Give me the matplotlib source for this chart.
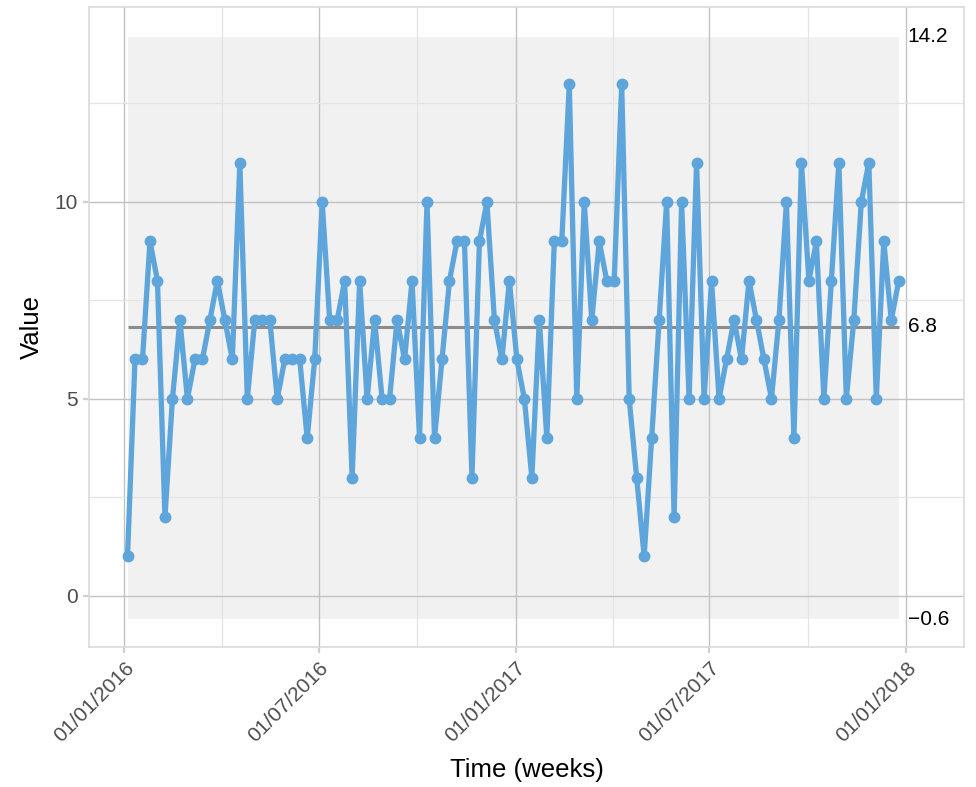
import numpy as np
import pandas as pd
import matplotlib
matplotlib.use('Agg')
import matplotlib.pyplot as plt
import matplotlib.dates as mdates
from matplotlib.ticker import FixedLocator

# Weekly values (104 weeks, starting Monday 4 Jan 2016)
START_DATE = '2016-01-04'
VALUES = [1, 6, 6, 9, 8, 2, 5, 7, 5, 6,
          6, 7, 8, 7, 6, 11, 5, 7, 7, 7,
          5, 6, 6, 6, 4, 6, 10, 7, 7, 8,
          3, 8, 5, 7, 5, 5, 7, 6, 8, 4,
          10, 4, 6, 8, 9, 9, 3, 9, 10, 7,
          6, 8, 6, 5, 3, 7, 4, 9, 9, 13,
          5, 10, 7, 9, 8, 8, 13, 5, 3, 1,
          4, 7, 10, 2, 10, 5, 11, 5, 8, 5,
          6, 7, 6, 8, 7, 6, 5, 7, 10, 4,
          11, 8, 9, 5, 8, 11, 5, 7, 10, 11,
          5, 9, 7, 8]
UPPER_LIMIT = 14.2
LOWER_LIMIT = -0.6
X_BREAKS = ['2016-01-01', '2016-07-01', '2017-01-01', '2017-07-01', '2018-01-01']
Y_BREAKS = [0, 5, 10]
Y_MINOR = [2.5, 7.5, 12.5]

LINE_COLOUR = '#5DA5DA'
BAND_COLOUR = '#f1f1f1'
MEAN_COLOUR = '#8c8c8c'
TICK_GREY = '#4d4d4d'

plt.rcParams['font.family'] = ['Liberation Sans', 'DejaVu Sans']


def minus(label: str) -> str:
    return label.replace('-', '\u2212')


def plot_run_chart(dates, values, filename: str) -> None:
    fig = plt.figure(figsize=(9.76, 7.87), dpi=100)
    ax = fig.add_axes([89 / 976, 1 - 647 / 787, (964 - 89) / 976, 640 / 787])

    centre = np.mean(values)

    # control band, centre line and the series itself
    ax.fill_between([dates[0], dates[-1]], LOWER_LIMIT, UPPER_LIMIT,
                    color=BAND_COLOUR, lw=0, zorder=0.3)
    ax.plot([dates[0], dates[-1]], [centre, centre], color=MEAN_COLOUR,
            lw=2.2, zorder=2, solid_capstyle='butt')
    ax.plot(dates, values, color=LINE_COLOUR, lw=3.8, marker='o', ms=7.5,
            zorder=3)

    for val in [UPPER_LIMIT, centre, LOWER_LIMIT]:
        ax.annotate(minus(f'{val:.1f}'), xy=(dates[-1], val), xytext=(6.5, 0),
                    textcoords='offset points', ha='left', va='center',
                    fontsize=15, color='black')

    # axes, grid
    major_dates = pd.to_datetime(X_BREAKS)
    major_nums = mdates.date2num(major_dates)
    minor_nums = (major_nums[:-1] + major_nums[1:]) / 2

    ax.set_xlim(dates[0] - pd.Timedelta(days=36), dates[-1] + pd.Timedelta(days=61))
    ax.set_ylim(-1.3, 14.95)
    ax.xaxis.set_major_locator(FixedLocator(major_nums))
    ax.xaxis.set_minor_locator(FixedLocator(minor_nums))
    ax.xaxis.set_major_formatter(mdates.DateFormatter('%d/%m/%Y'))
    ax.yaxis.set_major_locator(FixedLocator(Y_BREAKS))
    ax.yaxis.set_minor_locator(FixedLocator(Y_MINOR))

    ax.set_axisbelow(True)
    ax.grid(which='major', color='#c2c2c2', lw=1.0)
    ax.grid(which='minor', color='#e4e4e4', lw=0.9)
    for spine in ax.spines.values():
        spine.set_color('#dadada')
        spine.set_linewidth(1.2)

    ax.tick_params(which='major', length=4, width=1.6, color='#cfcfcf',
                   labelcolor=TICK_GREY, labelsize=15, pad=4)
    ax.tick_params(which='minor', length=0)
    plt.setp(ax.get_xticklabels(), rotation=45, ha='right',
             rotation_mode='anchor')

    ax.set_xlabel('Time (weeks)', fontsize=18.5, labelpad=9)
    ax.set_ylabel('Value', fontsize=18.5, labelpad=8)

    fig.savefig(filename, dpi=100)


if __name__ == '__main__':
    week_dates = pd.date_range(START_DATE, periods=len(VALUES), freq='7D')
    plot_run_chart(week_dates, VALUES, 'out.png')
